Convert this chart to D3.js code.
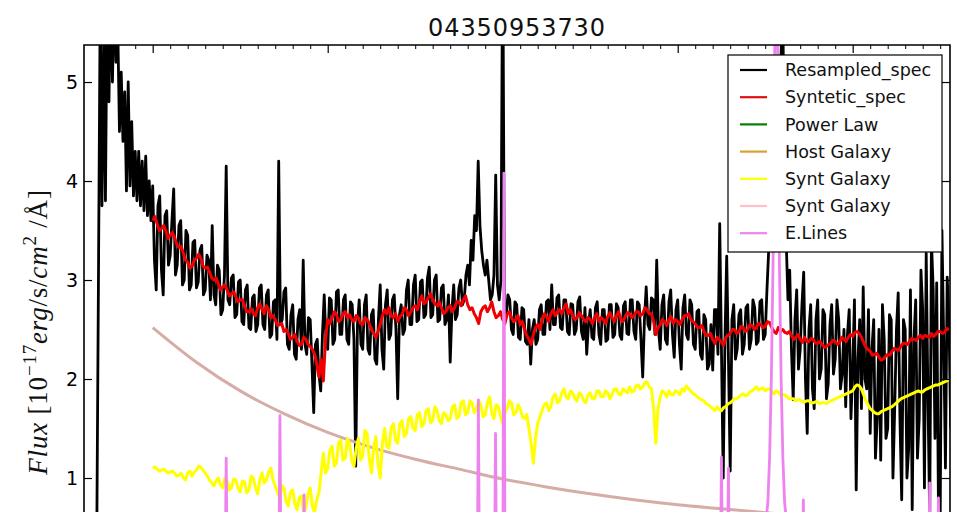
<!DOCTYPE html>
<html><head><meta charset="utf-8">
<script src="https://cdn.jsdelivr.net/npm/d3@7"></script>
<style>body{margin:0;background:#fff}svg{display:block}</style></head>
<body><svg id="c" width="957" height="523"></svg>
<script>
// ---------------- DATA ----------------
const chartTitle = "04350953730";
const yTickValues = [1, 2, 3, 4, 5];
const xMajorTickValues = [3000, 4000, 5000, 6000, 7000];
const xMinorTickValues = [2700,2800,2900,3100,3200,3300,3400,3500,3600,3700,3800,3900,4100,4200,4300,4400,4500,4600,4700,4800,4900,5100,5200,5300,5400,5500,5600,5700,5800,5900,6100,6200,6300,6400,6500,6600,6700,6800,6900,7100,7200,7300,7400,7500];

// Resampled spectrum (black): wavelength grid start/step (Angstrom), flux values
const specStart = 2680, specStep = 10;
const specFlux = [
0.30,3.00,5.80,3.75,5.50,3.80,6.00,4.80,6.00,5.00,6.00,5.20,5.60,4.50,5.10,4.40,4.90,3.90,5.00,3.95,
4.60,3.85,4.30,3.80,4.30,3.75,4.20,3.70,4.25,3.65,4.00,3.60,
3.95,3.20,2.90,3.75,3.85,3.10,2.85,3.65,3.70,3.15,3.25,3.60,3.92,3.05,3.15,3.55,3.60,2.95,
3.00,3.50,3.45,2.90,2.95,3.38,3.40,2.92,2.98,3.30,3.35,2.85,2.90,3.25,3.20,2.80,3.55,2.85,2.75,3.15,
3.10,2.65,2.70,3.05,4.15,2.80,2.75,3.02,3.05,2.62,2.65,2.98,3.00,2.58,2.55,2.90,2.95,2.52,2.50,2.82,
2.85,2.48,2.55,2.92,2.95,2.55,2.50,2.85,2.90,2.42,2.45,2.78,2.80,2.40,4.20,2.55,2.60,2.88,2.92,2.35,
2.30,2.65,2.75,2.25,2.20,2.60,2.70,2.30,3.20,2.35,2.25,2.62,2.60,2.15,1.66,2.35,2.40,2.05,1.88,2.45,
2.85,2.40,2.30,2.82,2.80,2.35,2.40,2.88,2.90,2.45,2.45,2.80,2.85,2.40,2.35,2.78,2.75,2.40,1.12,2.55,
2.80,2.35,2.30,2.75,2.85,2.30,2.25,2.65,2.70,2.20,2.15,2.60,2.95,2.30,2.10,2.75,2.90,2.40,2.45,2.80,
2.85,2.50,1.80,2.65,2.75,2.45,2.50,2.90,3.00,2.55,2.55,2.95,3.05,2.58,2.60,2.98,3.00,2.62,2.65,3.02,
3.13,2.62,2.65,3.00,3.05,2.58,2.60,2.92,2.95,2.55,2.60,2.85,2.17,2.70,2.95,2.60,2.65,2.92,3.00,2.75,
2.80,3.05,3.15,2.95,3.40,3.20,3.65,3.50,4.20,3.55,3.30,3.15,3.05,3.20,3.00,2.80,2.85,3.05,4.06,2.95,
2.80,3.00,6.50,2.70,2.65,2.85,
2.80,2.50,2.45,2.78,2.75,2.42,2.40,2.72,2.70,2.38,2.35,2.60,2.15,2.50,2.60,2.35,2.40,2.70,2.75,2.45,
2.45,2.78,2.80,2.50,2.95,2.55,2.55,2.82,2.85,2.52,2.50,2.80,2.80,2.48,2.45,2.76,2.75,2.45,2.50,2.78,
2.83,2.48,2.40,2.72,2.25,2.55,2.70,2.42,2.40,2.72,2.78,2.45,2.35,2.70,2.70,2.38,2.40,2.75,2.75,2.42,
2.45,2.76,2.72,2.44,2.40,2.74,2.78,2.46,2.45,2.80,2.80,2.48,2.40,2.78,2.75,2.40,2.02,2.60,2.93,2.55,
2.50,2.82,2.80,2.45,3.20,2.50,2.30,2.75,2.85,2.40,2.35,2.78,2.90,2.45,2.22,2.70,2.80,2.35,2.10,2.72,
2.85,2.45,2.40,2.80,2.75,2.35,2.30,2.68,2.70,2.25,
2.20,2.65,2.60,2.10,2.15,2.55,2.09,2.70,2.70,2.25,3.57,2.30,1.00,2.40,3.24,2.20,1.07,2.60,2.75,2.20,
2.30,2.65,2.70,2.25,2.35,2.72,2.75,2.30,2.40,2.80,2.72,2.35,2.38,2.78,2.80,2.40,2.45,2.90,3.30,3.50,
3.80,4.30,4.80,3.90,4.30,5.20,6.00,3.60,3.40,2.80,3.10,2.30,1.79,2.60,2.90,2.10,2.30,2.75,3.08,2.00,
1.45,2.50,2.75,1.90,1.70,2.60,2.80,2.00,2.10,2.70,2.65,1.80,1.95,2.55,2.75,2.05,2.20,2.80,2.60,1.90,
2.05,2.50,1.72,2.45,2.70,1.60,2.10,2.80,0.88,2.20,2.60,1.70,2.93,2.00,1.90,2.70,1.45,2.30,2.60,1.20,
1.60,2.50,1.18,2.75,2.40,1.40,1.50,2.65,2.60,1.00,1.70,2.50,2.87,1.60,0.78,2.60,2.50,1.00,1.30,2.90,
0.68,2.40,2.80,1.20,1.60,3.10,2.70,0.90,3.27,1.80,0.60,3.40,2.90,1.40,2.97,0.70,0.60,3.50,2.40,1.10,
3.03,2.60,1.50];

// Model components on a common grid
const modelStart = 3000, modelStep = 12.5;
const syntSpecFlux = [
3.60,3.64,3.57,3.50,3.52,3.55,3.50,3.42,3.45,3.48,3.43,3.36,3.33,3.34,3.27,3.20,3.18,3.12,3.14,3.20,
3.22,3.26,3.22,3.14,3.12,3.13,3.08,3.02,3.00,3.02,2.96,2.90,2.93,2.95,2.90,2.84,2.86,2.88,2.83,2.78,
2.80,2.80,2.74,2.68,2.68,2.71,2.66,2.64,2.72,2.76,2.70,2.66,2.74,2.70,2.62,2.64,2.60,2.54,2.55,2.56,
2.48,2.50,2.46,2.40,2.42,2.45,2.38,2.34,2.35,2.42,2.40,2.35,2.33,2.30,2.25,2.15,2.02,2.20,1.98,2.40,
2.60,2.56,2.62,2.68,2.65,2.58,2.60,2.66,2.68,2.62,2.65,2.60,2.58,2.64,2.62,2.56,2.55,2.62,2.60,2.56,
2.50,2.46,2.42,2.48,2.55,2.64,2.70,2.66,2.72,2.64,2.62,2.66,2.58,2.63,2.65,2.72,2.70,2.64,2.68,2.72,
2.74,2.70,2.78,2.84,2.76,2.78,2.82,2.86,2.80,2.76,2.74,2.78,2.72,2.66,2.68,2.72,2.74,2.68,2.72,2.78,
2.78,2.74,2.80,2.84,2.75,2.70,2.72,2.66,2.62,2.56,2.68,2.72,2.74,2.68,2.72,2.78,2.68,2.62,2.64,2.68,
2.60,2.56,2.65,2.68,2.62,2.58,2.60,2.64,2.55,2.58,2.50,2.44,2.40,2.35,2.45,2.52,2.55,2.50,2.60,2.66,
2.63,2.58,2.66,2.70,2.64,2.68,2.70,2.66,2.72,2.76,2.66,2.70,2.64,2.60,2.62,2.67,2.64,2.60,2.58,2.62,
2.60,2.56,2.62,2.66,2.58,2.62,2.60,2.56,2.63,2.67,2.62,2.58,2.64,2.68,2.60,2.58,2.63,2.67,2.66,2.62,
2.64,2.68,2.68,2.64,2.66,2.72,2.70,2.66,2.66,2.58,2.45,2.52,2.55,2.60,2.58,2.54,2.60,2.63,2.56,2.60,
2.58,2.55,2.60,2.64,2.64,2.66,2.60,2.58,2.56,2.52,2.52,2.54,2.48,2.44,2.44,2.46,2.40,2.36,2.42,2.40,
2.37,2.34,2.42,2.44,2.46,2.50,2.50,2.46,2.48,2.53,2.52,2.48,2.50,2.55,2.54,2.50,2.52,2.56,2.55,2.52,
2.53,2.58,2.57,2.52,2.48,2.46,2.52,2.48,2.50,2.47,2.46,2.48,2.44,2.40,2.42,2.45,2.40,2.37,2.42,2.38,
2.38,2.41,2.40,2.36,2.36,2.38,2.35,2.32,2.33,2.35,2.36,2.39,2.38,2.35,2.37,2.42,2.40,2.38,2.42,2.45,
2.43,2.47,2.48,2.46,2.42,2.37,2.32,2.30,2.28,2.24,2.25,2.26,2.22,2.19,2.20,2.23,2.25,2.24,2.28,2.31,
2.30,2.29,2.33,2.36,2.36,2.35,2.38,2.41,2.40,2.39,2.42,2.44,2.41,2.44,2.43,2.42,2.46,2.43,2.45,2.48,
2.48,2.46,2.47,2.51,2.50];

const syntGalaxyFlux = [
1.10,1.11,1.09,1.07,1.08,1.09,1.07,1.05,1.06,1.07,1.05,1.02,1.03,1.05,1.00,0.98,1.05,1.07,1.02,1.06,
1.08,1.12,1.11,1.08,1.05,1.02,0.98,0.95,0.92,0.97,1.00,0.93,0.90,1.00,0.97,0.88,0.90,0.99,0.98,0.90,
0.86,0.97,0.96,0.85,0.88,1.02,1.00,0.90,0.84,0.98,1.05,0.95,0.98,1.06,1.10,0.98,0.92,0.86,0.80,0.92,
0.90,0.76,0.72,0.86,0.88,0.74,0.68,0.80,0.82,0.66,0.70,0.84,0.90,0.72,0.65,0.78,0.85,1.05,1.25,1.05,
1.10,1.28,1.32,1.12,1.15,1.36,1.38,1.18,1.20,1.40,1.35,1.18,1.12,1.30,1.40,1.18,1.22,1.48,1.45,1.20,
1.05,1.30,1.42,1.15,1.00,1.35,1.50,1.32,1.30,1.50,1.55,1.38,1.35,1.55,1.58,1.42,1.45,1.60,1.62,1.50,
1.48,1.64,1.66,1.52,1.55,1.68,1.70,1.56,1.58,1.72,1.68,1.58,1.55,1.66,1.64,1.58,1.60,1.72,1.74,1.60,
1.62,1.76,1.78,1.64,1.66,1.78,1.76,1.66,1.70,1.78,1.74,1.62,1.64,1.76,1.82,1.66,1.60,1.74,1.72,1.62,
1.55,1.66,1.70,1.78,1.76,1.64,1.66,1.74,1.70,1.62,1.60,1.64,1.50,1.35,1.15,1.40,1.55,1.62,1.68,1.74,
1.76,1.68,1.72,1.82,1.85,1.76,1.78,1.86,1.90,1.82,1.80,1.88,1.86,1.80,1.78,1.86,1.84,1.78,1.76,1.84,
1.86,1.80,1.80,1.88,1.88,1.82,1.82,1.88,1.86,1.80,1.84,1.90,1.90,1.85,1.84,1.90,1.88,1.86,1.92,1.87,
1.88,1.93,1.94,1.90,1.92,1.96,1.97,1.92,1.90,1.70,1.35,1.70,1.82,1.88,1.86,1.82,1.88,1.84,1.84,1.88,
1.87,1.84,1.90,1.88,1.93,1.90,1.88,1.85,1.84,1.82,1.80,1.79,1.78,1.75,1.74,1.72,1.70,1.68,1.72,1.69,
1.68,1.71,1.72,1.75,1.76,1.78,1.80,1.80,1.82,1.84,1.85,1.83,1.84,1.87,1.88,1.90,1.92,1.89,1.90,1.91,
1.88,1.90,1.90,1.87,1.85,1.88,1.87,1.84,1.84,1.84,1.82,1.80,1.80,1.80,1.78,1.79,1.79,1.77,1.77,1.78,
1.78,1.76,1.76,1.77,1.77,1.75,1.76,1.76,1.75,1.77,1.78,1.79,1.80,1.81,1.82,1.83,1.84,1.85,1.86,1.87,
1.88,1.92,1.94,1.93,1.90,1.84,1.78,1.74,1.70,1.68,1.66,1.65,1.65,1.67,1.68,1.69,1.70,1.71,1.72,1.74,
1.76,1.78,1.80,1.81,1.82,1.83,1.84,1.85,1.86,1.87,1.88,1.87,1.87,1.89,1.90,1.91,1.92,1.93,1.94,1.94,
1.95,1.96,1.97,1.98,1.99];

// Power law continuum
const powerWave = [3000,3250,3500,3750,4000,4250,4500,4750,5000,5250,5500,5750,6000,6250,6500,6750,7000,7250,7500];
const powerFlux = [2.52,2.17,1.88,1.65,1.46,1.31,1.19,1.09,0.99,0.91,0.84,0.78,0.73,0.69,0.65,0.61,0.58,0.55,0.52];

// Emission lines
const elineWave = [3380,3414,3420,3426,3460, 3690,3721,3727,3733,3830,3859,3865,3871, 4820,4855,4861,4867,4930,4953,4959,4965,4980,5001,5007,5013,5050,
  6200,6244,6250,6256,6270,6284,6290,6296,6450,6500,6515,6525,6535,6545,6553,6563,6573,6581,6591,6601,6611,6626,6646,
  6690,6712,6718,6724,6760, 7400,7434,7440,7446,7475,7484,7490,7496,7530];
const elineFlux = [0,0,1.20,0,0, 0,0,1.63,0,0,0,0.83,0, 0,0,1.79,0,0,0,1.45,0,0,0,4.08,0,0,
  0,0,1.21,0,0,0,1.10,0,0,0.50,0.75,1.20,2.00,3.20,5.00,7.00,5.00,3.20,2.00,1.20,0.75,0.50,0,
  0,0,0.78,0,0, 0,0,0.95,0,0,0,0.80,0,0];

const legendLabels = ["Resampled_spec","Syntetic_spec","Power Law","Host Galaxy","Synt Galaxy","Synt Galaxy","E.Lines"];
const legendColors = ["#000000","#e01010","#008000","#daa030","#ffff00","#ffc0cb","#ee82ee"];

// ---------------- DRAW ----------------
const svg = d3.select("#c");
const L = 84, R = 950, T = 45, B = 512;
const x = d3.scaleLinear().domain([2607.4, 7556]).range([L, R]);
const y = d3.scaleLinear().domain([0, 5.374]).range([577, T]);

svg.append("defs").append("clipPath").attr("id","clip")
  .append("rect").attr("x", L).attr("y", T).attr("width", R - L).attr("height", B - T);

const plot = svg.append("g").attr("clip-path","url(#clip)");
const line = d3.line().x(d => x(d[0])).y(d => y(d[1]));

const specData = specFlux.map((v,i) => [specStart + specStep*i, v]);
const redData = syntSpecFlux.map((v,i) => [modelStart + modelStep*i, v]);
const yelData = syntGalaxyFlux.map((v,i) => [modelStart + modelStep*i, v]);
const powData = powerWave.map((w,i) => [w, powerFlux[i]]);
const elData = elineWave.map((w,i) => [w, elineFlux[i]]);

plot.append("path").datum(specData).attr("d", line)
  .attr("fill","none").attr("stroke","#000").attr("stroke-width",2.8).attr("stroke-linejoin","round");
plot.append("path").datum(redData).attr("d", line)
  .attr("fill","none").attr("stroke","#f00000").attr("stroke-width",3).attr("stroke-linejoin","round");
plot.append("path").datum(powData).attr("d", d3.line().curve(d3.curveMonotoneX).x(d=>x(d[0])).y(d=>y(d[1])))
  .attr("fill","none").attr("stroke","#d6aca6").attr("stroke-width",3);
plot.append("path").datum(yelData).attr("d", line)
  .attr("fill","none").attr("stroke","#ffff00").attr("stroke-width",3).attr("stroke-linejoin","round");
plot.append("path").datum(elData).attr("d", line)
  .attr("fill","none").attr("stroke","#ee82ee").attr("stroke-width",2.8).attr("stroke-linejoin","round");

// white area below crop
svg.append("rect").attr("x",0).attr("y",B).attr("width",957).attr("height",523-B).attr("fill","#fff");

// axes (ticks inward)
const font = "DejaVu Sans, sans-serif";
const yAxisL = svg.append("g").attr("transform",`translate(${L},0)`)
  .call(d3.axisLeft(y).tickValues(yTickValues).tickSizeInner(-8).tickSizeOuter(0).tickPadding(6).tickFormat(d3.format("d")));
yAxisL.select(".domain").remove();
yAxisL.selectAll("text").attr("font-family", font).attr("font-size", 19).attr("fill","#000");
yAxisL.selectAll("line").attr("stroke","#000").attr("stroke-width",1.2);

const yAxisR = svg.append("g").attr("transform",`translate(${R},0)`)
  .call(d3.axisRight(y).tickValues(yTickValues).tickSizeInner(-8).tickSizeOuter(0).tickFormat(""));
yAxisR.select(".domain").remove();
yAxisR.selectAll("line").attr("stroke","#000").attr("stroke-width",1.2);

const xTopMinor = svg.append("g").attr("transform",`translate(0,${T})`)
  .call(d3.axisTop(x).tickValues(xMinorTickValues).tickSizeInner(-4).tickSizeOuter(0).tickFormat(""));
xTopMinor.select(".domain").remove();
xTopMinor.selectAll("line").attr("stroke","#000").attr("stroke-width",1);
const xTopMajor = svg.append("g").attr("transform",`translate(0,${T})`)
  .call(d3.axisTop(x).tickValues(xMajorTickValues).tickSizeInner(-8).tickSizeOuter(0).tickFormat(""));
xTopMajor.select(".domain").remove();
xTopMajor.selectAll("line").attr("stroke","#000").attr("stroke-width",1.2);

// frame
svg.append("path").attr("d",`M${L},${B}V${T}H${R}V${B}`)
  .attr("fill","none").attr("stroke","#000").attr("stroke-width",1.6);

// title
svg.append("text").attr("x",(L+R)/2).attr("y",36).attr("text-anchor","middle")
  .attr("font-family",font).attr("font-size",24).attr("letter-spacing","0.9px").attr("fill","#111").text(chartTitle);

// y label
const yl = svg.append("text").attr("transform","translate(47,332) rotate(-90)")
  .attr("text-anchor","middle").attr("font-family","Liberation Serif, serif").attr("font-size",27)
  .attr("letter-spacing","0.8px").attr("fill","#111");
yl.append("tspan").attr("font-style","italic").text("Flux");
yl.append("tspan").text(" [10");
yl.append("tspan").attr("font-size",19).attr("dy",-11).text("−17");
yl.append("tspan").attr("font-style","italic").attr("dy",11).text("erg");
yl.append("tspan").text("/s/");
yl.append("tspan").attr("font-style","italic").text("cm");
yl.append("tspan").attr("font-size",19).attr("dy",-11).text("2");
yl.append("tspan").attr("dy",11).text(" /Å]");

// legend
const lg = svg.append("g");
lg.append("rect").attr("x",728).attr("y",55).attr("width",214).attr("height",197)
  .attr("fill","#fff").attr("stroke","#000").attr("stroke-width",1.2);
legendLabels.forEach((lab,i) => {
  const yy = 70 + i*27.2;
  lg.append("line").attr("x1",740).attr("x2",767).attr("y1",yy).attr("y2",yy)
    .attr("stroke",legendColors[i]).attr("stroke-width",2.2);
  lg.append("text").attr("x",785).attr("y",yy).attr("dy","0.35em")
    .attr("font-family",font).attr("font-size",17.5).attr("fill","#111").text(lab);
});
</script></body></html>
